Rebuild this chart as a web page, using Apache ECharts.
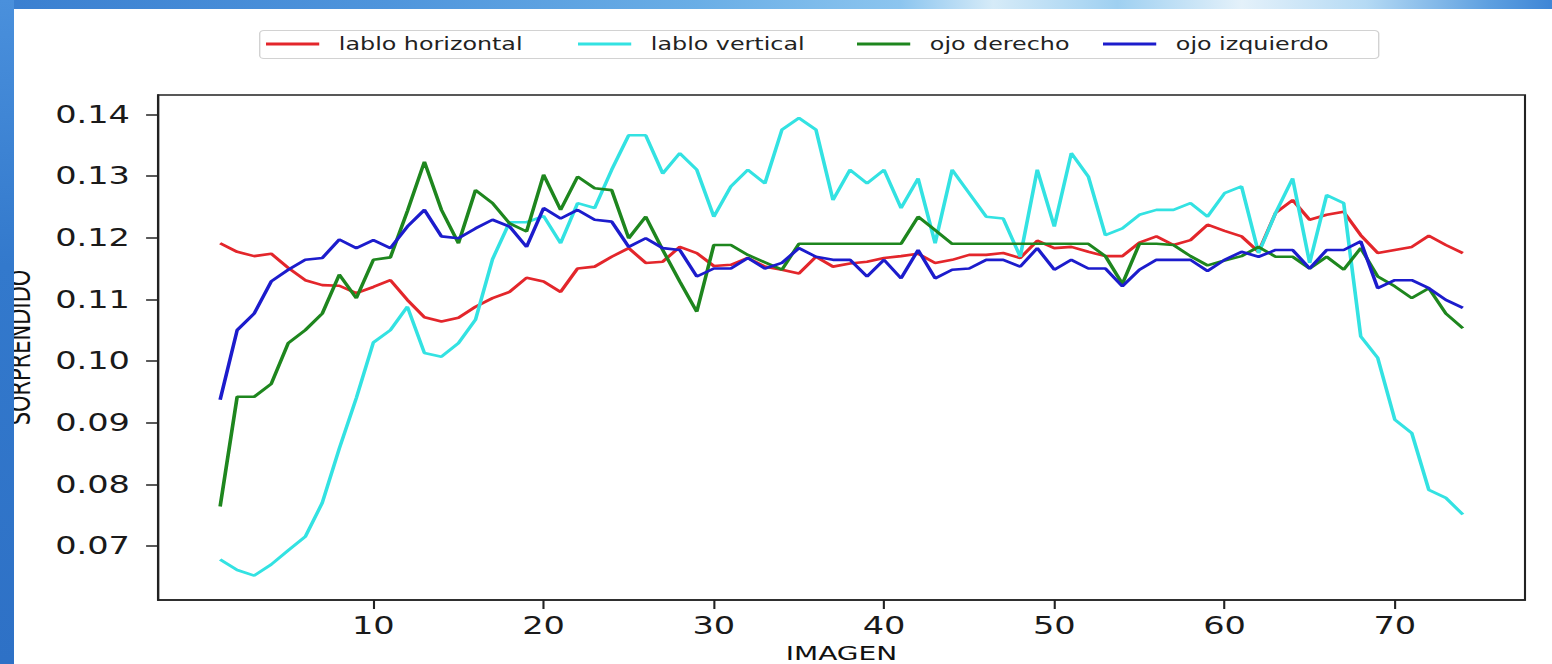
<!DOCTYPE html>
<html>
<head>
<meta charset="utf-8">
<script src="https://cdn.jsdelivr.net/npm/echarts@6/dist/echarts.min.js"></script>
<style>
html,body{margin:0;padding:0;background:#fff;}
#page{position:relative;width:1552px;height:664px;overflow:hidden;background:#fff;}
#chart{position:absolute;left:0;top:0;width:1108px;height:664px;transform-origin:0 0;transform:scaleX(1.4007220);}
#leftbar{position:absolute;left:0;top:0;width:14px;height:664px;z-index:5;
  background:linear-gradient(to bottom,#4a90dc 0%,#3379cc 40%,#2e71c6 100%);}
#topbar{position:absolute;left:0;top:0;width:1552px;height:9px;z-index:5;
  background:linear-gradient(to right,#3a7fd0 0%,#4f95dc 25%,#6aaee6 45%,#8cc5ef 58%,#d6ebf8 64%,#9fd0f1 72%,#e4f1fa 80%,#b5daf4 88%,#5d9fe0 96%,#3f86d6 100%);}
</style>
</head>
<body>
<div id="page">
  <div id="chart"></div>
  <div id="topbar"></div>
  <div id="leftbar"></div>
</div>
<script>
// ---- data ----
const imagen = [1,2,3,4,5,6,7,8,9,10,11,12,13,14,15,16,17,18,19,20,21,22,23,24,25,26,27,28,29,30,31,32,33,34,35,36,37,38,39,40,41,42,43,44,45,46,47,48,49,50,51,52,53,54,55,56,57,58,59,60,61,62,63,64,65,66,67,68,69,70,71,72,73,74];
const xTicks = [10,20,30,40,50,60,70];
const yTicks = [0.07,0.08,0.09,0.10,0.11,0.12,0.13,0.14];
const seriesNames = ['lablo horizontal','lablo vertical','ojo derecho','ojo izquierdo'];

const labloHorizontal = [0.1191,0.1177,0.1170,0.1174,0.1151,0.1131,0.1123,0.1122,0.1110,0.1120,
0.1131,0.1099,0.1071,0.1064,0.1070,0.1088,0.1102,0.1112,0.1135,0.1129,
0.1112,0.1150,0.1153,0.1169,0.1183,0.1159,0.1161,0.1185,0.1175,0.1154,
0.1156,0.1167,0.1153,0.1148,0.1142,0.1169,0.1153,0.1158,0.1161,0.1167,
0.1170,0.1174,0.1159,0.1164,0.1172,0.1172,0.1175,0.1167,0.1195,0.1183,
0.1185,0.1177,0.1170,0.1170,0.1192,0.1202,0.1188,0.1196,0.1221,0.1211,
0.1202,0.1177,0.1240,0.1261,0.1229,0.1237,0.1242,0.1204,0.1175,0.1180,
0.1185,0.1203,0.1188,0.1175];

const labloVertical = [0.0678,0.0661,0.0652,0.0670,0.0693,0.0715,0.0770,0.0858,0.0940,0.1030,
0.1050,0.1088,0.1013,0.1007,0.1029,0.1067,0.1165,0.1225,0.1225,0.1235,
0.1191,0.1256,0.1248,0.1310,0.1366,0.1366,0.1304,0.1337,0.1310,0.1234,
0.1283,0.1310,0.1288,0.1375,0.1394,0.1375,0.1261,0.1310,0.1288,0.1310,
0.1248,0.1296,0.1191,0.1310,0.1272,0.1234,0.1231,0.1169,0.1310,0.1218,
0.1337,0.1299,0.1204,0.1215,0.1237,0.1245,0.1245,0.1256,0.1234,0.1272,
0.1283,0.1175,0.1240,0.1296,0.1159,0.1269,0.1256,0.1040,0.1005,0.0905,
0.0883,0.0791,0.0778,0.0751];

const ojoDerecho = [0.0764,0.0942,0.0942,0.0963,0.1029,0.1050,0.1077,0.1140,0.1102,0.1164,
0.1168,0.1243,0.1323,0.1245,0.1191,0.1277,0.1256,0.1223,0.1210,0.1302,
0.1245,0.1299,0.1280,0.1277,0.1199,0.1234,0.1180,0.1129,0.1080,0.1188,
0.1188,0.1172,0.1160,0.1148,0.1190,0.1190,0.1190,0.1190,0.1190,0.1190,
0.1190,0.1234,0.1212,0.1190,0.1190,0.1190,0.1190,0.1190,0.1190,0.1190,
0.1190,0.1190,0.1170,0.1125,0.1190,0.1190,0.1188,0.1170,0.1155,0.1163,
0.1170,0.1185,0.1169,0.1169,0.1150,0.1169,0.1148,0.1183,0.1137,0.1121,
0.1102,0.1118,0.1077,0.1053];

const ojoIzquierdo = [0.0937,0.1050,0.1077,0.1129,0.1148,0.1164,0.1167,0.1197,0.1183,0.1196,
0.1183,0.1218,0.1245,0.1202,0.1199,0.1215,0.1229,0.1218,0.1185,0.1248,
0.1231,0.1245,0.1229,0.1226,0.1185,0.1199,0.1183,0.1180,0.1137,0.1150,
0.1150,0.1167,0.1150,0.1159,0.1183,0.1169,0.1164,0.1164,0.1137,0.1164,
0.1134,0.1180,0.1134,0.1148,0.1150,0.1164,0.1164,0.1153,0.1183,0.1148,
0.1164,0.1150,0.1150,0.1121,0.1148,0.1164,0.1164,0.1164,0.1146,0.1164,
0.1177,0.1169,0.1180,0.1180,0.1150,0.1180,0.1180,0.1194,0.1118,0.1131,
0.1131,0.1118,0.1099,0.1086];

const seriesValues = [labloHorizontal, labloVertical, ojoDerecho, ojoIzquierdo];
const seriesColors = ['#e3262b','#33e2e2','#1e861e','#1c1ccc'];

// ---- layout (chart is rendered 1108 wide and stretched horizontally) ----
const W = 1108, H = 664, S = 1552 / W;
const rx = v => v / S; // reference-pixel x -> chart x

const chart = echarts.init(document.getElementById('chart'), null, {renderer: 'svg', width: W, height: H});
const FONT = 'DejaVu Sans';
const legendLefts = [266, 578, 857, 1103];
const AX = '#222';

const option = {
  animation: false,
  backgroundColor: 'transparent',
  textStyle: {fontFamily: FONT},
  grid: {
    left: rx(158), right: W - rx(1525), top: 95, bottom: 64,
    outerBoundsMode: 'none', containLabel: false,
    show: true, borderColor: AX, borderWidth: 1.5, backgroundColor: '#fff'
  },
  graphic: [{
    type: 'rect', left: rx(259), top: 30, z: -1,
    shape: {width: rx(1378 - 259), height: 28, r: 3},
    style: {fill: '#fff', stroke: '#d2d2d2', lineWidth: 1}
  }],
  legend: seriesNames.map((n, i) => ({
    data: [n], left: rx(legendLefts[i]), top: 35.5, padding: 0,
    icon: 'rect', itemWidth: 38, itemHeight: 3, selectedMode: false,
    textStyle: {fontSize: 17, color: '#222', fontFamily: FONT, padding: [0, 0, 0, 9]}
  })),
  xAxis: {
    type: 'value', min: -2.65, max: 77.65,
    name: 'IMAGEN', nameLocation: 'middle', nameGap: 34,
    nameTextStyle: {fontSize: 20, color: '#111', fontFamily: FONT},
    axisLine: {show: true, onZero: false, lineStyle: {color: AX, width: 1.5}}, splitLine: {show: false},
    axisTick: {show: true, inside: false, length: 9, customValues: xTicks, lineStyle: {color: AX, width: 1.5}},
    axisLabel: {customValues: xTicks, fontSize: 24, color: '#1a1a1a', margin: 14, fontFamily: FONT}
  },
  yAxis: {
    type: 'value', min: 0.06124, max: 0.14313,
    name: 'SORPRENDIDO', nameLocation: 'middle', nameRotate: 90, nameGap: 88,
    nameTextStyle: {fontSize: 21, color: '#111', fontFamily: FONT},
    axisLine: {show: true, onZero: false, lineStyle: {color: AX, width: 1.5}}, splitLine: {show: false},
    axisTick: {show: true, inside: false, length: 8.5, customValues: yTicks, lineStyle: {color: AX, width: 1.5}},
    axisLabel: {customValues: yTicks, formatter: v => v.toFixed(2), fontSize: 24, color: '#1a1a1a', margin: 20, fontFamily: FONT}
  },
  series: seriesNames.map((n, i) => ({
    name: n, type: 'line', symbol: 'none', smooth: false,
    data: imagen.map((x, k) => [x, seriesValues[i][k]]),
    lineStyle: {color: seriesColors[i], width: 2.6},
    itemStyle: {color: seriesColors[i]},
    z: 2 + i
  }))
};
chart.setOption(option);
</script>
</body>
</html>
